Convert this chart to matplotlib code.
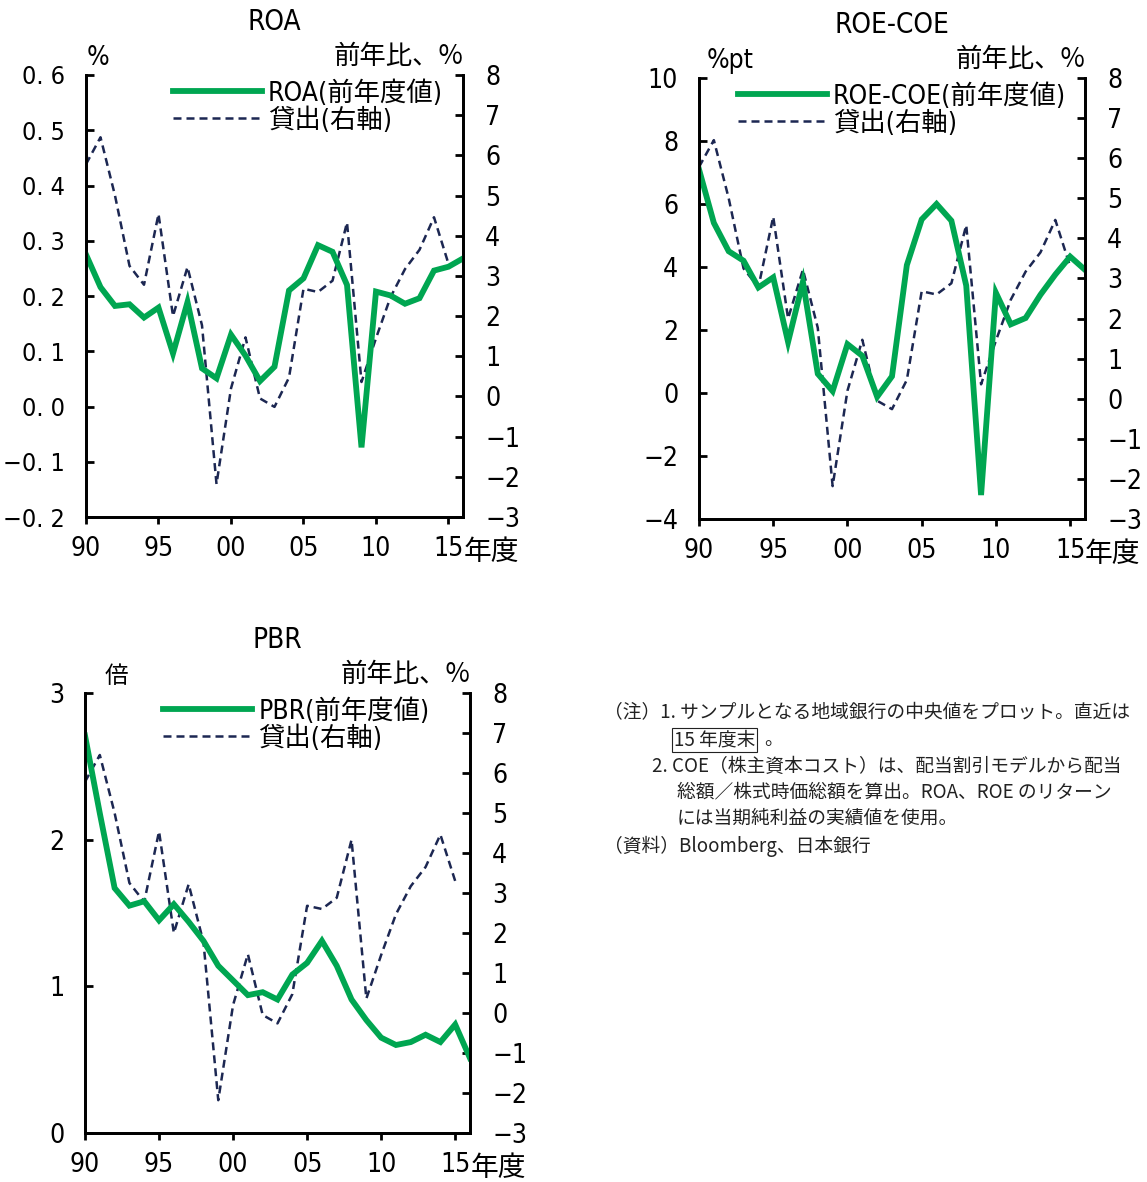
import matplotlib.pyplot as plt

NARROW = ['DejaVu Sans', 'Noto Sans CJK JP']
CJK = ['Noto Sans CJK JP', 'DejaVu Sans']
plt.rcParams['font.family'] = NARROW
plt.rcParams['font.stretch'] = 'condensed'
plt.rcParams['axes.unicode_minus'] = True

years = list(range(1990, 2017))
loan_years = list(range(1990, 2016))

roa = [0.275, 0.216, 0.182, 0.185, 0.161, 0.179, 0.096, 0.189, 0.069, 0.051,
       0.130, 0.092, 0.046, 0.072, 0.210, 0.232, 0.292, 0.280, 0.220, -0.074,
       0.208, 0.201, 0.186, 0.196, 0.246, 0.253, 0.268]
roe_coe = [7.1, 5.4, 4.5, 4.2, 3.35, 3.67, 1.62, 3.53, 0.61, 0.06,
           1.55, 1.18, -0.12, 0.53, 4.06, 5.51, 6.0, 5.47, 3.41, -3.24,
           3.18, 2.18, 2.38, 3.12, 3.76, 4.33, 3.91]
pbr = [2.71, 2.18, 1.67, 1.55, 1.58, 1.45, 1.56, 1.44, 1.31, 1.14,
       1.04, 0.94, 0.96, 0.91, 1.08, 1.16, 1.31, 1.14, 0.91, 0.77,
       0.65, 0.60, 0.62, 0.67, 0.62, 0.74, 0.51]
loans = [5.78, 6.45, 5.0, 3.25, 2.78, 4.54, 2.0, 3.22, 1.77, -2.18,
         0.2, 1.47, -0.05, -0.26, 0.47, 2.68, 2.6, 2.88, 4.33, 0.36,
         1.45, 2.47, 3.17, 3.65, 4.46, 3.3]

x_ticks = [1990, 1995, 2000, 2005, 2010, 2015]
x_labels = ['90', '95', '00', '05', '10', '15']

GREEN = '#00a651'
NAVY = '#1c2752'
W, H = 1147, 1182

fig = plt.figure(figsize=(W / 100, H / 100), dpi=100)


def px_axes(left, top, right, bottom):
    return fig.add_axes([left / W, 1 - bottom / H, (right - left) / W, (bottom - top) / H])


def panel(box, values, ylim, yticks, ylabels, ysize, title, unit, unit_x, unit_size,
          legend_name, leg_x, title_y):
    left, top, right, bottom = box
    h = bottom - top
    w = right - left
    ax = px_axes(*box)
    ax2 = ax.twinx()
    ax2.plot(loan_years, loans, color=NAVY, lw=1.8, ls=(0, (3.2, 2.0)), label='貸出(右軸)')
    ax.plot(years, values, color=GREEN, lw=4.2, solid_joinstyle='miter', label=legend_name)
    ax.set_zorder(ax2.get_zorder() + 1)
    ax.patch.set_visible(False)
    ax.set_xlim(1990, 2016)
    ax.set_ylim(*ylim)
    ax2.set_ylim(-3, 8)
    ax.set_yticks(yticks)
    ax.set_yticklabels(ylabels)
    ax2.set_yticks(range(-3, 9))
    ax2.set_yticklabels([str(v).replace('-', '\u2212') for v in range(-3, 9)])
    ax.set_xticks(x_ticks)
    ax.set_xticklabels(x_labels)
    for a in (ax, ax2):
        a.spines['top'].set_visible(False)
        for s in ('left', 'right', 'bottom'):
            a.spines[s].set_linewidth(2)
        a.tick_params(axis='y', direction='in', length=6, width=2, labelsize=19)
    ax.tick_params(axis='y', pad=15, labelsize=ysize)
    ax2.tick_params(axis='y', pad=16)
    ax.tick_params(axis='x', direction='out', length=5, width=2, labelsize=19, pad=9)
    # unit on the x axis, next to the last tick label
    ax.text((2015 - 1990) / 26 + 15 / w, -35 / h, '年度', transform=ax.transAxes, fontsize=20,
            family=CJK, va='center', ha='left')
    ax.text(0.5, 1.0 + (top - title_y) / h, title, transform=ax.transAxes,
            ha='center', va='center', fontsize=20)
    ax.text(unit_x / w, 1.0 + 17 / h, unit, transform=ax.transAxes, ha='left', va='center',
            fontsize=unit_size, family=NARROW)
    ax.text(1.0, 1.0 + 19 / h, '前年比、%', transform=ax.transAxes, ha='right', va='center',
            fontsize=19, family=CJK)
    h1, l1 = ax.get_legend_handles_labels()
    h2, l2 = ax2.get_legend_handles_labels()
    ax.legend(h1 + h2, l1 + l2, loc='upper left', bbox_to_anchor=(leg_x, 1 - 5 / h),
              frameon=False, handlelength=3.37, handletextpad=0.23, labelspacing=0.02,
              borderpad=0, borderaxespad=0,
              prop={'family': NARROW, 'size': 19, 'stretch': 'condensed'})
    return ax


roa_ticks = [-0.2, -0.1, 0.0, 0.1, 0.2, 0.3, 0.4, 0.5, 0.6]
roa_labels = [('%.1f' % v).replace('.', '. ').replace('-', '\u2212') for v in roa_ticks]
panel((86, 75, 463, 517), roa, (-0.2, 0.6), roa_ticks, roa_labels, 18,
      'ROA', '%', 1, 19, 'ROA(前年度値)', 0.23, 22)

roe_ticks = [-4, -2, 0, 2, 4, 6, 8, 10]
panel((699, 78, 1085, 519), roe_coe, (-4, 10), roe_ticks,
      [str(v).replace('-', '\u2212') for v in roe_ticks], 19,
      'ROE-COE', '%pt', 8, 19, 'ROE-COE(前年度値)', 0.10, 25)

pbr_ticks = [0, 1, 2, 3]
panel((85, 693, 470, 1133), pbr, (0, 3), pbr_ticks, [str(v) for v in pbr_ticks], 19,
      'PBR', '倍', 20, 17, 'PBR(前年度値)', 0.203, 640)

# notes
note_font = {'family': CJK, 'size': 13.5, 'color': '#222222', 'stretch': 'normal'}
fig.text(604 / W, 1 - 713 / H, '（注）1. サンプルとなる地域銀行の中央値をプロット。直近は', va='center', **note_font)
fig.text(674 / W, 1 - 740 / H, '15 年度末', va='center',
         bbox=dict(boxstyle='square,pad=0.1', fc='none', ec='#222222', lw=0.8), **note_font)
fig.text(764 / W, 1 - 740 / H, '。', va='center', **note_font)
fig.text(652 / W, 1 - 766 / H, '2. COE（株主資本コスト）は、配当割引モデルから配当', va='center', **note_font)
fig.text(677 / W, 1 - 792 / H, '総額／株式時価総額を算出。ROA、ROE のリターン', va='center', **note_font)
fig.text(677 / W, 1 - 818 / H, 'には当期純利益の実績値を使用。', va='center', **note_font)
fig.text(604 / W, 1 - 846 / H, '（資料）Bloomberg、日本銀行', va='center', **note_font)

fig.savefig('out.png', dpi=100)
